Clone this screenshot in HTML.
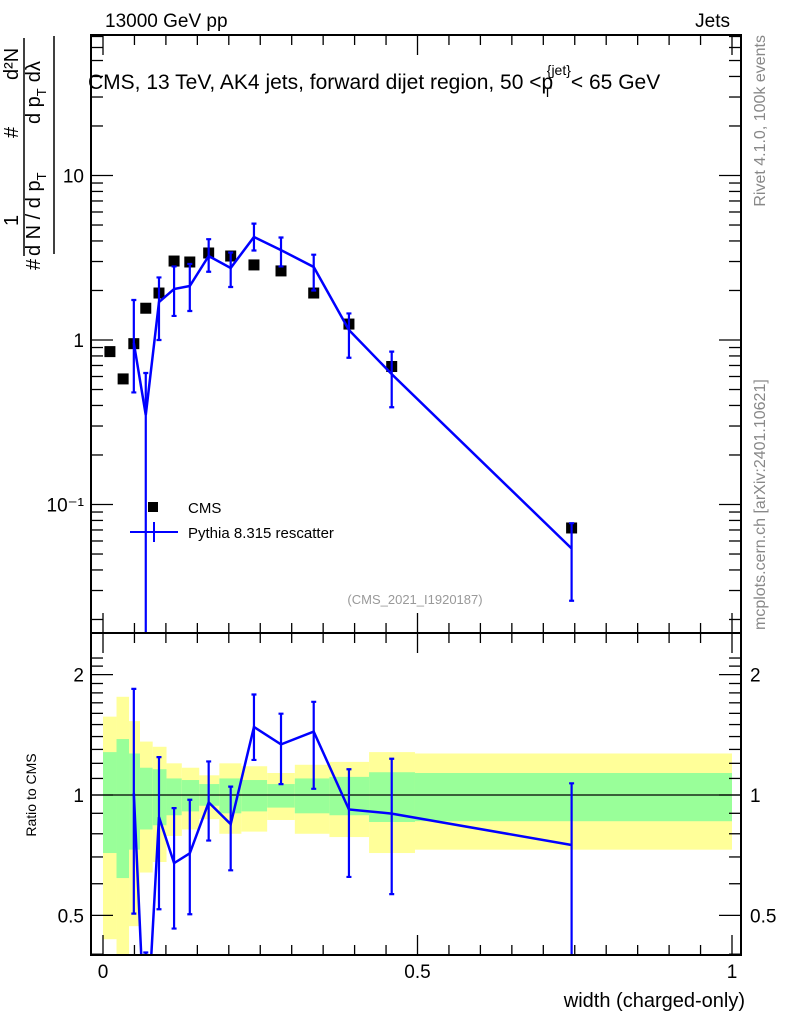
<!DOCTYPE html>
<html><head><meta charset="utf-8"><style>
html,body{margin:0;background:#fff;overflow:hidden;width:786px;height:1024px;}
svg{display:block;font-family:"Liberation Sans",sans-serif;}
</style></head><body>
<svg id="c" width="786" height="1024" viewBox="0 0 786 1024" xmlns="http://www.w3.org/2000/svg">
<g id="bands"></g>
<g id="marks"></g>
<g id="axes"></g>
<text x="105" y="27" font-size="19">13000 GeV pp</text>
<text x="730" y="27" font-size="19" text-anchor="end">Jets</text>
<text x="88" y="89" font-size="21">CMS, 13 TeV, AK4 jets, forward dijet region, 50 &lt;p<tspan font-size="14" dx="-10" dy="8">T</tspan><tspan font-size="14" dx="-5" dy="-22">{jet}</tspan><tspan dy="14">&lt; 65 GeV</tspan></text>
<text transform="translate(765,35) rotate(-90)" font-size="16" fill="#888" text-anchor="end">Rivet 4.1.0,  100k events</text>
<text transform="translate(765,630) rotate(-90)" font-size="16" fill="#888">mcplots.cern.ch [arXiv:2401.10621]</text>
<g transform="translate(40,270) rotate(-90)" font-size="20">
<text x="0" y="0">#</text><text x="14" y="0">d N / d p<tspan font-size="13" dy="6">T</tspan></text>
<text x="44" y="-22">1</text>
<line x1="14" y1="-16" x2="232" y2="-16" stroke="#000" stroke-width="1.5"/>
<text x="132" y="-22">#</text><text x="146" y="0">d p<tspan font-size="13" dy="6">T</tspan><tspan dy="-6" dx="6">dλ</tspan></text>
<text x="190" y="-22">d²N</text>
</g>
<line x1="54" y1="254" x2="54" y2="36" stroke="#000" stroke-width="1.5"/>
<text transform="translate(36,795) rotate(-90)" font-size="14" text-anchor="middle">Ratio to CMS</text>
<text x="745" y="1007" font-size="20" text-anchor="end">width (charged-only)</text>
<g>
<rect x="148" y="502" width="10" height="10" fill="#000"/>
<text x="188" y="513" font-size="15">CMS</text>
<line x1="130" y1="532" x2="178" y2="532" stroke="#00f" stroke-width="2"/>
<line x1="154" y1="522" x2="154" y2="542" stroke="#00f" stroke-width="2"/>
<text x="188" y="538" font-size="15">Pythia 8.315 rescatter</text>
</g>
<text x="415" y="604" font-size="13" fill="#999" text-anchor="middle">(CMS_2021_I1920187)</text>
</svg>
<script>
const edges=[0,0.0215,0.0414,0.0588,0.079,0.101,0.1253,0.153,0.185,0.220,0.261,0.305,0.360,0.423,0.496,1.0];
const cmsX=[0.011,0.032,0.049,0.068,0.089,0.113,0.138,0.168,0.203,0.24,0.283,0.335,0.391,0.459,0.745];
const cmsVal=[0.85,0.58,0.95,1.56,1.93,3.02,2.98,3.38,3.24,2.86,2.63,1.93,1.25,0.69,0.072];
const mcVal=[null,null,0.96,0.35,1.70,2.04,2.13,3.24,2.74,4.23,3.52,2.78,1.15,0.62,0.054];
const mcLo=[null,null,0.48,0.001,1.0,1.4,1.5,2.6,2.1,3.5,2.8,2.0,0.78,0.39,0.026];
const mcHi=[null,null,1.75,0.63,2.4,2.8,2.9,4.1,3.4,5.1,4.2,3.3,1.45,0.85,0.077];
const yelHi=[1.57,1.76,1.53,1.36,1.32,1.20,1.17,1.12,1.20,1.18,1.135,1.19,1.21,1.28,1.27];
const yelLo=[0.436,0.38,0.47,0.64,0.68,0.79,0.82,0.87,0.80,0.81,0.866,0.80,0.785,0.716,0.73];
const grnHi=[1.28,1.38,1.27,1.17,1.16,1.10,1.09,1.065,1.10,1.09,1.065,1.10,1.11,1.14,1.135];
const grnLo=[0.716,0.62,0.73,0.82,0.84,0.89,0.91,0.94,0.90,0.91,0.93,0.90,0.89,0.856,0.86];
const xTicks=[0,0.5,1];const xTickLabels=["0","0.5","1"];
const yTicks=[0.1,1,10];const yTickLabels=["10⁻¹","1","10"];
const rTicks=[0.5,1,2];const rTickLabels=["0.5","1","2"];

const NS="http://www.w3.org/2000/svg";
const L=91,R=741,T=35,MB=633,RB=955;
const X=v=>103+v*629;
const Y=v=>340-164.5*Math.log10(v);
const YR=v=>795-400*Math.log10(v);
function mk(p,tag,a){const e=document.createElementNS(NS,tag);for(const k in a)e.setAttribute(k,a[k]);p.appendChild(e);return e;}
const bands=document.getElementById('bands'),marks=document.getElementById('marks'),axes=document.getElementById('axes');
const clampR=y=>Math.max(MB,Math.min(RB,y));
for(let i=0;i<edges.length-1;i++){
  const x0=X(edges[i]),x1=X(edges[i+1]);
  const y=mk(bands,'rect',{x:x0,y:clampR(YR(yelHi[i])),width:x1-x0,height:clampR(YR(yelLo[i]))-clampR(YR(yelHi[i])),fill:'#ffff99'});
  
  
  const g=mk(bands,'rect',{x:x0,y:clampR(YR(grnHi[i])),width:x1-x0,height:clampR(YR(grnLo[i]))-clampR(YR(grnHi[i])),fill:'#99ff99'});
  
  
}
mk(marks,'line',{x1:L,y1:795,x2:R,y2:795,stroke:'#000','stroke-width':1.2});
const clip=mk(marks,'clipPath',{id:'cm'});mk(clip,'rect',{x:L,y:T,width:R-L,height:MB-T});
const clip2=mk(marks,'clipPath',{id:'cr'});mk(clip2,'rect',{x:L,y:MB,width:R-L,height:RB-MB});
const gm=mk(marks,'g',{'clip-path':'url(#cm)'}),gr=mk(marks,'g',{'clip-path':'url(#cr)'});
let pm=[],pr=[];
for(let i=0;i<cmsX.length;i++){
  const x=X(cmsX[i]);
  const sq=mk(gm,'rect',{x:x-5.5,y:Y(cmsVal[i])-5.5,width:11,height:11,fill:'#000'});
  
  
  if(mcVal[i]==null)continue;
  pm.push(x+','+Y(mcVal[i]));pr.push(x+','+YR(mcVal[i]/cmsVal[i]));
  const e=mk(gm,'path',{d:`M${x},${Y(mcLo[i])}V${Y(mcHi[i])}M${x-2.5},${Y(mcLo[i])}h5M${x-2.5},${Y(mcHi[i])}h5`,stroke:'#00f','stroke-width':2.2,fill:'none'});
  
  
  const lo=YR(Math.max(mcLo[i],0.01)/cmsVal[i]),hi=YR(mcHi[i]/cmsVal[i]);
  const er=mk(gr,'path',{d:`M${x},${lo}V${hi}M${x-2.5},${lo}h5M${x-2.5},${hi}h5`,stroke:'#00f','stroke-width':2.2,fill:'none'});
  
  
}
const lm=mk(gm,'polyline',{points:pm.join(' '),stroke:'#00f','stroke-width':2.5,fill:'none'});


const lr=mk(gr,'polyline',{points:pr.join(' '),stroke:'#00f','stroke-width':2.5,fill:'none'});


mk(axes,'rect',{x:L,y:T,width:R-L,height:MB-T,fill:'none',stroke:'#000','stroke-width':2});
mk(axes,'rect',{x:L,y:MB,width:R-L,height:RB-MB,fill:'none',stroke:'#000','stroke-width':2});
for(let d=-2;d<=1;d++)for(let m=1;m<10;m++){
  const v=m*Math.pow(10,d),y=Y(v);if(y<T||y>MB)continue;
  const len=m==1?22:12;
  mk(axes,'line',{x1:L,y1:y,x2:L+len,y2:y,stroke:'#000','stroke-width':1.3});
  mk(axes,'line',{x1:R,y1:y,x2:R-len,y2:y,stroke:'#000','stroke-width':1.3});
}
yTicks.forEach((v,i)=>{const t=mk(axes,'text',{x:84,y:Y(v)+7,'font-size':19,'text-anchor':'end'});t.textContent=yTickLabels[i];

});
for(let v=0.4;v<=2.3;v+=0.1){const y=YR(v);if(y<MB||y>RB)continue;
  const maj=Math.abs(v-0.5)<1e-6||Math.abs(v-1)<1e-6||Math.abs(v-2)<1e-6;
  const len=maj?22:12;
  mk(axes,'line',{x1:L,y1:y,x2:L+len,y2:y,stroke:'#000','stroke-width':1.3});
  mk(axes,'line',{x1:R,y1:y,x2:R-len,y2:y,stroke:'#000','stroke-width':1.3});}
rTicks.forEach((v,i)=>{
  const t=mk(axes,'text',{x:84,y:YR(v)+7,'font-size':19,'text-anchor':'end'});t.textContent=rTickLabels[i];
  
  
  const t2=mk(axes,'text',{x:750,y:YR(v)+7,'font-size':19});t2.textContent=rTickLabels[i];
  
  });
for(let k=0;k<=20;k++){const v=k*0.05,x=X(v);const maj=k%10==0;const len=maj?20:10;
  [[T,1],[MB,-1],[MB,1],[RB,-1]].forEach(([y0,s])=>mk(axes,'line',{x1:x,y1:y0,x2:x,y2:y0+s*len,stroke:'#000','stroke-width':1.3}));}
xTicks.forEach((v,i)=>{const t=mk(axes,'text',{x:X(v),y:978,'font-size':19,'text-anchor':'middle'});t.textContent=xTickLabels[i];

});
</script>
</body></html>
